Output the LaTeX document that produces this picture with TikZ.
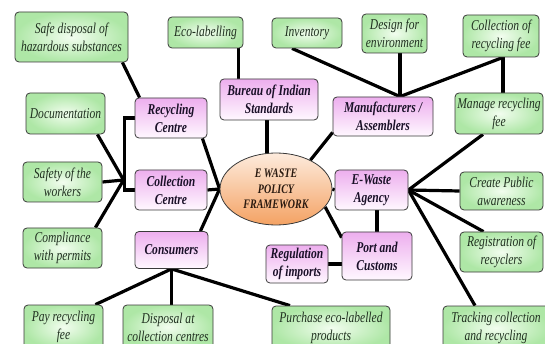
\documentclass[tikz,border=0pt]{standalone}
\usepackage{fontspec}
\setmainfont{Liberation Serif}[FakeStretch=0.77]
\usetikzlibrary{backgrounds,shapes.geometric}

\definecolor{leafin}{HTML}{F2FDEF}
\definecolor{leafout}{HTML}{AEE7A6}
\definecolor{roletop}{HTML}{EDAEEE}
\definecolor{rolebot}{HTML}{FFF8FF}
\definecolor{coretop}{HTML}{FDEBDD}
\definecolor{corebot}{HTML}{F4A263}
\definecolor{edge}{HTML}{3A3A3A}
\definecolor{leafink}{HTML}{203020}
\definecolor{roleink}{HTML}{1A1028}
\definecolor{coreink}{HTML}{2A1A10}

\begin{document}
\begin{tikzpicture}[x=1pt,y=-1pt,
  box/.style={draw=edge, line width=0.8pt, rounded corners=4pt, align=center, inner sep=1pt},
  leaf/.style={box, inner color=leafin, outer color=leafout,
    font=\itshape\fontsize{15}{18}\selectfont, text=leafink},
  role/.style={box, top color=roletop, bottom color=rolebot,
    font=\bfseries\itshape\fontsize{15}{18}\selectfont, text=roleink},
  core/.style={ellipse, draw=edge, line width=0.8pt, top color=coretop, bottom color=corebot,
    align=center, font=\bfseries\itshape\fontsize{13}{15.5}\selectfont, text=coreink, inner sep=0pt},
  link/.style={line width=3.2pt, black},
  sz/.style 2 args={minimum width=#1, minimum height=#2}
]
\useasboundingbox (0,0) rectangle (545,344);

% top row
\node[leaf, sz={113}{50}] (safe) at (71.5,37) {Safe disposal of\\hazardous substances};
\node[leaf, sz={75}{31}] (eco) at (205.5,32.5) {Eco-labelling};
\node[leaf, sz={70}{30}] (inv) at (307,33) {Inventory};
\node[leaf, sz={65}{39}] (dfe) at (394.5,33.5) {Design for\\environment};
\node[leaf, sz={76}{42}] (cfee) at (501,36) {Collection of\\recycling fee};

% stakeholders and their duties
\node[role, sz={98}{41}] (bis) at (269,99.5) {Bureau of Indian\\Standards};
\node[role, sz={72}{40}] (rec) at (171,118) {Recycling\\Centre};
\node[leaf, sz={79}{41}] (doc) at (65.5,113.5) {Documentation};
\node[role, sz={100}{39}] (manu) at (383,116.5) {Manufacturers /\\Assemblers};
\node[leaf, sz={88}{41}] (mfee) at (499,113.5) {Manage recycling\\fee};
\node[role, sz={72}{40}] (coll) at (171,190) {Collection\\Centre};
\node[leaf, sz={79}{40}] (safety) at (62.5,182) {Safety of the\\workers};
\node[core, sz={112}{72}] (core) at (276,189) {E WASTE\\POLICY\\FRAMEWORK};
\node[role, sz={73}{40}] (agency) at (371.5,190) {E-Waste\\Agency};
\node[leaf, sz={83}{38}] (aware) at (501.5,191) {Create Public\\awareness};
\node[leaf, sz={79}{40}] (permit) at (62.5,248) {Compliance\\with permits};
\node[role, sz={73}{37}] (cons) at (171.5,250) {Consumers};
\node[role, sz={70}{48}] (port) at (377,256) {Port and\\Customs};
\node[role, sz={62}{38}] (imp) at (297,264) {Regulation\\of imports};
\node[leaf, sz={83}{40}] (regr) at (501.5,252) {Registration of\\recyclers};

% bottom row
\node[leaf, sz={79}{44}] (pay) at (63.5,327) {Pay recycling\\fee};
\node[leaf, sz={90}{44}] (disp) at (168,327) {Disposal at\\collection centres};
\node[leaf, sz={118}{44}] (buy) at (331,328) {Purchase eco-labelled\\products};
\node[leaf, sz={106}{44}] (track) at (496,328) {Tracking collection\\and recycling};

\begin{scope}[on background layer]
  \fill[white] (0,0) rectangle (545,344);

  % Bureau of Indian Standards
  \coordinate (ecoDrop) at ([xshift=-5pt]eco.south east);
  \draw[link] (ecoDrop) -- (ecoDrop |- bis.center);
  \coordinate (bisDrop) at ([xshift=-2pt]bis.south);
  \draw[link] (bisDrop) -- (bisDrop |- core.center);

  % Manufacturers / Assemblers
  \coordinate (mtop) at ([xshift=17pt]manu.north);
  \draw[link] ([xshift=-15pt]inv.south) -- (mtop);
  \draw[link] (mtop |- dfe.south) -- (mtop);
  \coordinate (cfDrop) at ([xshift=2pt]cfee.south);
  \draw[link] (cfDrop) -- (mtop);
  \draw[link] (cfDrop) -- (cfDrop |- mfee.center);
  \draw[link] ([yshift=4pt]manu.south west) -- (core.40);

  % E-Waste Agency
  \draw[link] ([xshift=-16pt]mfee.south) -- (agency.east);
  \draw[link] (agency.east) -- (aware.west);
  \draw[link] (agency.east) -- ([xshift=-18pt]regr.north);
  \draw[link] (agency.east) -- ([xshift=-21pt]track.north);
  \draw[link] (core.east) -- (agency.west);

  % Port and Customs
  \draw[link] (port.north) -- (port.north |- agency.center);
  \draw[link] (core.-20) -- ([yshift=-6pt]port.north west);
  \draw[link] (imp.east) -- (imp.east -| port.center);

  % Recycling and Collection Centres
  \draw[link] ([xshift=-6pt]safe.south east) -- ([xshift=5pt]rec.north west);
  \draw[link] ([xshift=-5pt]rec.south east) -- (core.west);
  \draw[link] (coll.east) -- (core.west);
  \draw[link] (rec.west) -- ++(-10pt,0) |- (coll.west);
  \coordinate (lhub) at ([xshift=-11pt,yshift=10pt]coll.west);
  \draw[link] ([xshift=-8pt]doc.south east) -- (lhub);
  \draw[link] (safety.east) -- (lhub);
  \draw[link] ([xshift=-7pt]permit.north east) -- (lhub);

  % Consumers
  \draw[link] ([xshift=-8pt]cons.north east) -- (core.west);
  \draw[link] (cons.south) -- ([xshift=-8pt]pay.north east);
  \draw[link] (cons.south) -- (cons.south |- disp.center);
  \draw[link] (cons.south) -- ([xshift=-41pt]buy.north);
\end{scope}
\end{tikzpicture}
\end{document}
